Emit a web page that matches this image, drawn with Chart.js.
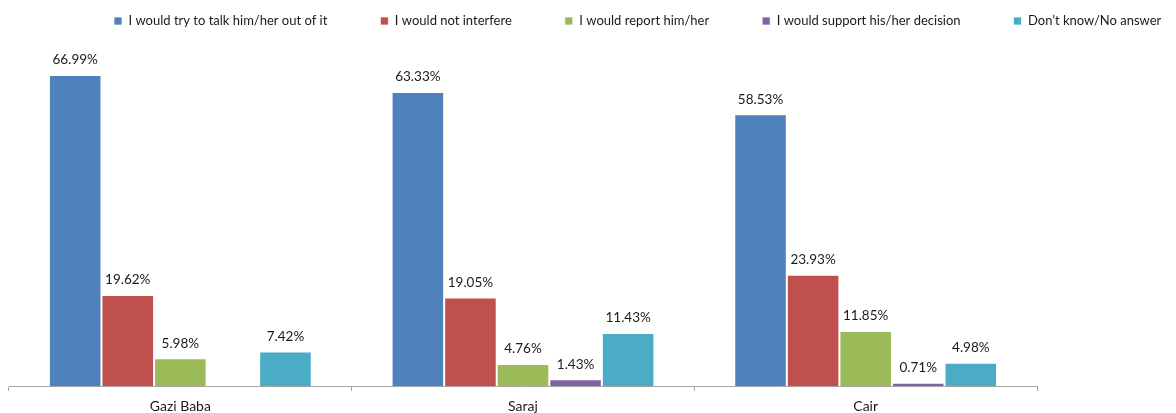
<!DOCTYPE html>
<html>
<head>
<meta charset="utf-8">
<script src="https://cdn.jsdelivr.net/npm/chart.js@4.4.1/dist/chart.umd.min.js"></script>
<style>
  html, body { margin: 0; padding: 0; background: #fff; }
  #wrap { width: 1176px; height: 413px; position: relative; }
</style>
</head>
<body>
<div id="wrap"><canvas id="chart"></canvas></div>
<script>
const municipalities = ['Gazi Baba', 'Saraj', 'Cair'];
const seriesNames = [
    'I would try to talk him/her out of it',
    'I would not interfere',
    'I would report him/her',
    'I would support his/her decision',
    'Don\u2019t know/No answer'
];
const talkOut = [66.99, 63.33, 58.53];
const notInterfere = [19.62, 19.05, 23.93];
const report = [5.98, 4.76, 11.85];
const support = [0, 1.43, 0.71];
const dontKnow = [7.42, 11.43, 4.98];
const colors = ['#4F81BD', '#C0504D', '#9BBB59', '#8064A2', '#4BACC6'];

const allSeries = [talkOut, notInterfere, report, support, dontKnow];

// legend sits higher and further right than chart.js would put it,
// and must stay on one row even though it runs to the canvas edge
const legendShift = {
    id: 'legendShift',
    beforeInit(chart) {
        const fit = chart.legend.fit;
        chart.legend.fit = function () {
            const w = this.maxWidth;
            this.maxWidth = 3000;
            fit.bind(chart.legend)();
            this.maxWidth = w;
            this.width = w;
            this.height = 40;
        };
    },
    afterLayout(chart) {
        const pad = chart.options.plugins.legend.labels.padding;
        chart.legend.top = 14.5 - pad;
        chart.legend.left = 114 - pad;
        chart.legend.right = 3000;
    }
};

// value labels above each bar
const barLabels = {
    id: 'barLabels',
    afterDatasetsDraw(chart) {
        const ctx = chart.ctx;
        ctx.save();
        ctx.font = '13.5px Lato';
        ctx.fillStyle = '#1a1a1a';
        ctx.textAlign = 'center';
        ctx.textBaseline = 'middle';
        chart.data.datasets.forEach((ds, i) => {
            chart.getDatasetMeta(i).data.forEach((bar, j) => {
                const v = ds.data[j];
                if (!v) return;
                ctx.fillText(v.toFixed(2) + '%', bar.x, bar.y - 15);
            });
        });
        ctx.restore();
    }
};

new Chart(document.getElementById('chart'), {
    type: 'bar',
    data: {
        labels: municipalities,
        datasets: allSeries.map((vals, i) => ({
            label: seriesNames[i],
            data: vals,
            backgroundColor: colors[i],
            borderColor: 'rgba(255,255,255,0.7)',
            borderWidth: 1,
            borderSkipped: 'bottom',
            barPercentage: 1,
            categoryPercentage: 0.767
        }))
    },
    options: {
        responsive: true,
        maintainAspectRatio: false,
        animation: false,
        layout: { padding: { left: 9, top: 0, bottom: 0 } },
        plugins: {
            legend: {
                position: 'top',
                align: 'start',
                labels: {
                    font: { family: 'Lato', size: 13 },
                    color: '#1a1a1a',
                    boxWidth: 8,
                    boxHeight: 8,
                    padding: 53
                }
            },
            tooltip: { enabled: false }
        },
        scales: {
            x: {
                grid: {
                    offset: true,
                    drawOnChartArea: false,
                    drawTicks: true,
                    tickLength: 5,
                    color: '#a6a6a6'
                },
                border: { color: '#a6a6a6', width: 1 },
                ticks: {
                    font: { family: 'Lato', size: 14 },
                    color: '#1a1a1a',
                    padding: 7
                },
                afterFit(scale) { scale.height = 27; }
            },
            y: {
                position: 'right',
                min: 0,
                max: 74.5,
                grid: { display: false },
                border: { display: false },
                ticks: { display: false },
                afterFit(scale) { scale.width = 139; }
            }
        }
    },
    plugins: [legendShift, barLabels]
});
</script>
</body>
</html>
